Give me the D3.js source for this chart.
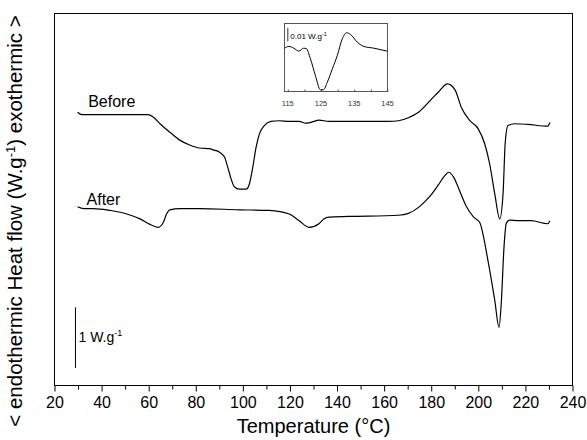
<!DOCTYPE html>
<html>
<head>
<meta charset="utf-8">
<script src="https://cdn.jsdelivr.net/npm/d3@7"></script>
<style>
  body { margin: 0; background: #fff; }
  svg { display: block; font-family: "Liberation Sans", Arial, sans-serif; }
</style>
</head>
<body>
<div id="chart"></div>
<script>
// DSC traces, heat flow in W/g (curves offset for display), temperature in °C
const before = [
  [29.8, 4.51], [31.7, 4.47], [39.4, 4.47], [50.0, 4.47], [59.8, 4.47], [61.9, 4.43],
  [64.8, 4.32], [69.0, 4.18], [73.2, 4.05], [77.4, 3.97], [81.7, 3.92], [85.9, 3.91],
  [87.3, 3.89], [90.1, 3.85], [92.2, 3.77], [93.6, 3.60], [95.0, 3.41], [96.4, 3.28],
  [98.5, 3.24], [101.4, 3.24], [102.8, 3.33], [104.2, 3.60], [105.6, 3.93], [107.0, 4.15],
  [109.1, 4.29], [111.9, 4.36], [115.4, 4.37], [119.7, 4.36], [123.9, 4.36], [126.7, 4.33],
  [129.5, 4.35], [132.3, 4.38], [136.6, 4.36], [145.0, 4.36], [153.4, 4.36], [161.9, 4.36],
  [166.1, 4.37], [170.3, 4.42], [174.6, 4.51], [180.2, 4.73], [183.0, 4.84], [186.9, 4.98],
  [190.1, 4.88], [192.8, 4.59], [196.4, 4.37], [199.9, 4.24], [202.7, 3.99], [204.8, 3.66],
  [207.0, 3.16], [209.1, 2.75], [210.5, 3.16], [211.4, 3.99], [212.6, 4.29], [215.4, 4.32],
  [221.0, 4.31], [229.5, 4.28], [230.4, 4.34]
];
const after = [
  [29.8, 2.95], [32.4, 2.92], [36.6, 2.92], [43.6, 2.89], [47.9, 2.86], [50.7, 2.83],
  [56.3, 2.75], [60.5, 2.66], [64.0, 2.61], [66.2, 2.69], [67.6, 2.83], [69.0, 2.90],
  [73.2, 2.92], [81.7, 2.92], [98.5, 2.90], [111.2, 2.89], [119.7, 2.83], [123.9, 2.72],
  [128.1, 2.61], [132.3, 2.67], [134.4, 2.75], [136.6, 2.78], [145.0, 2.79], [166.1, 2.81],
  [170.3, 2.84], [174.6, 2.94], [177.4, 3.04], [180.2, 3.16], [183.0, 3.31], [185.5, 3.45],
  [187.4, 3.52], [189.5, 3.44], [192.0, 3.22], [195.0, 2.95], [198.0, 2.78], [200.6, 2.69],
  [204.1, 2.06], [207.0, 1.40], [208.8, 0.96], [209.8, 1.40], [210.9, 2.28], [211.9, 2.68],
  [213.3, 2.73], [216.8, 2.72], [222.4, 2.72], [229.5, 2.67], [230.4, 2.72]
];
// inset: magnified "Before" trace between 114 and 145 °C
const inset = [
  [114.0, 0.0017], [115.3, 0.0030], [116.8, 0.0017], [118.3, -0.0005], [119.8, 0.0017],
  [120.6, 0.0013], [121.8, -0.0062], [123.3, -0.0187], [124.8, -0.0293], [125.7, -0.0293],
  [126.9, -0.0236], [128.4, -0.0137], [129.9, -0.0037], [131.4, 0.0087], [132.7, 0.0132],
  [133.9, 0.0119], [135.9, 0.0062], [137.9, 0.0030], [140.9, 0.0017], [144.9, -0.0005]
];
const curveLabels = [
  { text: "Before", t: 34.3, v: 4.60 },
  { text: "After", t: 33.6, v: 2.98 }
];
const xTicks = d3.range(20, 241, 20);
const xMinorTicks = d3.range(30, 240, 20);
const insetTicks = [115, 125, 135, 145];
const insetMinorTicks = [120, 130, 140];

const W = 587, H = 440;
const margin = { top: 13.5, right: 14.5, bottom: 54.5, left: 54.5 };

const svg = d3.select("#chart").append("svg")
  .attr("width", W)
  .attr("height", H);

const x = d3.scaleLinear().domain([20, 240]).range([margin.left, W - margin.right]);
const y = d3.scaleLinear().domain([0, 6.14]).range([H - margin.bottom, margin.top]);

// frame
svg.append("rect")
  .attr("x", margin.left).attr("y", margin.top)
  .attr("width", W - margin.left - margin.right)
  .attr("height", H - margin.top - margin.bottom)
  .attr("fill", "none").attr("stroke", "#000").attr("stroke-width", 1);

// x axis, major ticks with labels and minor ticks pointing out
svg.append("g")
  .attr("transform", `translate(0,${H - margin.bottom})`)
  .call(d3.axisBottom(x).tickValues(xTicks).tickSize(6).tickPadding(5).tickFormat(d3.format("d")))
  .call(g => g.select(".domain").remove())
  .call(g => g.selectAll("text").attr("font-size", 16).attr("fill", "#000")
    .attr("font-family", "Liberation Sans, Arial, sans-serif"));
svg.append("g")
  .attr("transform", `translate(0,${H - margin.bottom})`)
  .call(d3.axisBottom(x).tickValues(xMinorTicks).tickSize(4).tickFormat(""))
  .call(g => g.select(".domain").remove());

svg.append("text")
  .attr("x", (margin.left + W - margin.right) / 2)
  .attr("y", 433)
  .attr("text-anchor", "middle")
  .attr("font-size", 20)
  .text("Temperature (°C)");

const yLab = svg.append("text")
  .attr("transform", `translate(22,221) rotate(-90)`)
  .attr("text-anchor", "middle")
  .attr("font-size", 20.5);
yLab.append("tspan").text("< endothermic Heat flow (W.g");
yLab.append("tspan").attr("font-size", 13).attr("dy", -7).text("-1");
yLab.append("tspan").attr("dy", 7).text(") exothermic >");

// curves
const line = d3.line()
  .x(d => x(d[0]))
  .y(d => y(d[1]))
  .curve(d3.curveMonotoneX);

svg.selectAll("path.trace").data([before, after]).join("path")
  .attr("class", "trace")
  .attr("d", line)
  .attr("fill", "none")
  .attr("stroke", "#000")
  .attr("stroke-width", 1.2);

svg.selectAll("text.curve-label").data(curveLabels).join("text")
  .attr("class", "curve-label")
  .attr("x", d => x(d.t))
  .attr("y", d => y(d.v))
  .attr("font-size", 16)
  .text(d => d.text);

// 1 W/g scale bar
svg.append("line")
  .attr("x1", x(28.9)).attr("x2", x(28.9))
  .attr("y1", y(0.29)).attr("y2", y(1.29))
  .attr("stroke", "#000").attr("stroke-width", 1);
const sb = svg.append("text")
  .attr("x", x(28.9) + 3)
  .attr("y", y(0.72))
  .attr("font-size", 14);
sb.append("tspan").text("1 W.g");
sb.append("tspan").attr("font-size", 9).attr("dy", -6).text("-1");

// inset
const xi = d3.scaleLinear().domain([114, 145]).range([284.5, 387.5]);
const yi = d3.scaleLinear().domain([-0.0306, 0.0201]).range([91.5, 23.5]);

const gi = svg.append("g").attr("class", "inset");
gi.append("rect")
  .attr("x", xi(114)).attr("y", yi(0.0201))
  .attr("width", xi(145) - xi(114))
  .attr("height", yi(-0.0306) - yi(0.0201))
  .attr("fill", "#fff").attr("stroke", "#555").attr("stroke-width", 1);

gi.append("g")
  .attr("transform", `translate(0,${yi(-0.0306)})`)
  .call(d3.axisTop(xi).tickValues(insetTicks.concat(insetMinorTicks)).tickSize(2).tickFormat(""))
  .call(g => g.select(".domain").remove())
  .call(g => g.selectAll("line").attr("stroke", "#555"));

gi.selectAll("text.inset-tick").data(insetTicks).join("text")
  .attr("class", "inset-tick")
  .attr("x", d => xi(d))
  .attr("y", yi(-0.0306) + 14)
  .attr("text-anchor", "middle")
  .attr("font-size", 7.5)
  .attr("fill", "#333")
  .text(d => d);

gi.append("path")
  .datum(inset)
  .attr("d", d3.line().x(d => xi(d[0])).y(d => yi(d[1])).curve(d3.curveMonotoneX))
  .attr("fill", "none")
  .attr("stroke", "#000")
  .attr("stroke-width", 1);

gi.append("line")
  .attr("x1", xi(115)).attr("x2", xi(115))
  .attr("y1", yi(0.0168)).attr("y2", yi(0.0068))
  .attr("stroke", "#000").attr("stroke-width", 0.8);
const ib = gi.append("text")
  .attr("x", xi(115) + 2.5)
  .attr("y", yi(0.0082))
  .attr("font-size", 8);
ib.append("tspan").text("0.01 W.g");
ib.append("tspan").attr("font-size", 5.5).attr("dy", -3.5).text("-1");
</script>
</body>
</html>
